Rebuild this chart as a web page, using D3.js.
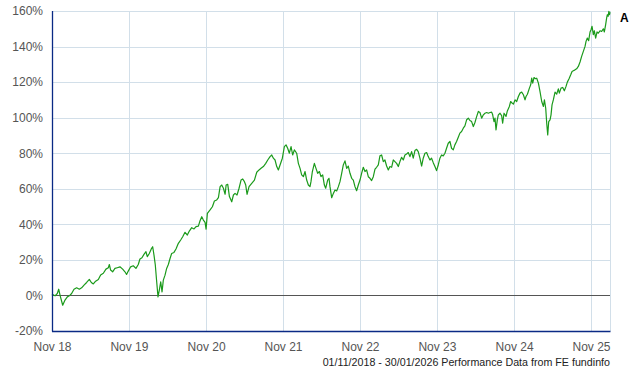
<!DOCTYPE html>
<html>
<head>
<meta charset="utf-8">
<script src="https://cdn.jsdelivr.net/npm/d3@7"></script>
<style>
html,body{margin:0;padding:0;background:#fff;}
svg{display:block;}
text{font-family:"Liberation Sans",Arial,sans-serif;}
</style>
</head>
<body>
<svg id="chart" width="640" height="370"></svg>
<script>
// Decimal-year time stamps of the series
const timeYears = [
2018.833,2018.842,2018.872,2018.902,2018.920,2018.937,2018.972,2019.002,2019.032,2019.058,
2019.088,2019.119,2019.153,2019.188,2019.218,2019.249,2019.283,2019.318,2019.344,2019.370,
2019.400,2019.435,2019.465,2019.500,2019.534,2019.565,2019.578,2019.595,2019.621,2019.651,
2019.681,2019.716,2019.751,2019.781,2019.802,2019.824,2019.855,2019.889,2019.924,2019.954,
2019.976,2020.002,2020.028,2020.054,2020.071,2020.097,2020.127,2020.141,2020.158,2020.175,
2020.193,2020.210,2020.227,2020.245,2020.262,2020.279,2020.301,2020.322,2020.344,2020.366,
2020.387,2020.417,2020.443,2020.474,2020.504,2020.530,2020.560,2020.590,2020.616,2020.647,
2020.677,2020.703,2020.733,2020.755,
2020.777,2020.798,2020.820,2020.833,2020.850,2020.885,2020.915,2020.941,2020.971,2020.993,
2021.015,2021.036,2021.058,2021.080,2021.093,2021.114,2021.136,2021.166,2021.188,2021.209,
2021.235,2021.261,2021.287,2021.309,2021.331,2021.348,2021.365,2021.391,2021.426,2021.461,
2021.491,2021.521,2021.547,2021.577,2021.608,2021.634,2021.664,2021.686,2021.707,2021.729,
2021.751,2021.772,2021.794,2021.824,2021.850,2021.872,2021.893,2021.915,2021.937,2021.958,
2021.980,2022.010,2022.032,2022.054,2022.075,2022.097,2022.119,2022.140,2022.162,2022.183,
2022.196,2022.214,2022.240,2022.261,2022.283,2022.305,2022.326,2022.348,2022.370,2022.387,
2022.413,2022.430,2022.443,2022.465,2022.487,2022.508,2022.530,2022.552,2022.573,2022.595,
2022.616,2022.638,
2022.660,2022.681,2022.703,2022.725,2022.746,2022.768,2022.789,2022.811,2022.833,2022.854,
2022.876,2022.898,2022.919,2022.941,2022.963,2022.984,2023.006,2023.028,2023.049,2023.071,
2023.092,2023.114,2023.136,2023.157,2023.179,2023.201,2023.222,2023.244,2023.266,2023.287,
2023.309,2023.331,2023.352,2023.374,2023.396,2023.417,2023.439,2023.460,2023.482,2023.504,
2023.525,2023.547,2023.569,2023.590,2023.612,2023.634,2023.655,2023.677,2023.699,2023.720,
2023.742,2023.763,2023.785,2023.807,2023.828,2023.850,2023.872,2023.893,2023.915,2023.937,
2023.958,2023.980,2024.002,2024.023,2024.045,2024.066,2024.088,2024.110,2024.131,2024.153,
2024.175,2024.196,2024.218,2024.240,2024.261,2024.283,2024.305,2024.326,2024.348,2024.370,
2024.391,2024.413,2024.435,2024.456,2024.478,2024.500,2024.521,
2024.543,2024.556,2024.573,2024.586,2024.599,2024.616,2024.629,2024.651,2024.672,2024.685,
2024.703,2024.729,2024.746,2024.772,2024.789,2024.807,2024.824,2024.846,2024.867,2024.889,
2024.910,2024.932,2024.954,2024.975,2024.988,2025.006,2025.032,2025.049,2025.062,2025.075,
2025.092,2025.110,2025.127,2025.149,2025.170,2025.192,2025.214,2025.227,2025.244,2025.257,
2025.270,2025.283,2025.300,2025.313,2025.326,2025.343,2025.365,2025.387,2025.408,2025.421,
2025.443,2025.465,2025.486,2025.508,2025.525,2025.547,2025.569,2025.586,2025.603,2025.625,
2025.646,2025.668,2025.690,2025.711,2025.733,2025.755,2025.768,2025.785,2025.802,2025.820,
2025.833,2025.846,2025.863,2025.876,2025.893,2025.911,2025.928,2025.950,2025.971,2025.993,
2026.006,2026.023,2026.036,2026.045,2026.055,2026.065,2026.073,2026.080
];
// Cumulative performance, %
const returns = [
0,0.5,-0.2,1.1,3.5,0.2,-5.5,-2.6,-0.8,-0.2,
1.1,3.5,4.3,3.5,4.3,5.8,7.3,9.0,7.3,6.5,
8.0,9.0,11.5,12.5,14.8,15.6,17.4,14.3,13.3,15.2,
15.6,16.1,14.8,13.3,11.8,13.7,16.1,16.7,15.2,17.4,
20.5,21.2,23.1,24.6,21.8,23.6,26.5,27.4,22.7,17.1,
7.7,-0.8,3.0,7.7,2.0,8.6,11.4,15.2,17.4,20.8,
23.6,24.2,26.1,29.3,31.2,33.0,35.5,34.0,36.2,38.1,
37.4,38.7,39.0,42.0,
44.3,42.4,41.1,37.3,46.2,48.1,49.9,53.1,53.7,55.0,
61.2,62.1,60.3,56.9,62.1,62.5,55.6,52.7,56.5,57.4,
56.5,60.3,64.9,65.5,64.0,62.1,56.9,61.2,63.1,64.9,
69.3,70.6,71.5,72.5,74.3,76.2,78.1,79.0,77.2,76.2,
72.5,70.6,73.4,77.2,83.7,84.7,82.8,80.0,83.7,79.0,
81.9,80.0,74.3,71.5,67.8,66.8,69.7,64.9,62.1,61.2,
64.0,69.7,74.3,71.5,68.7,69.7,66.8,67.8,62.1,60.3,
64.9,65.9,61.2,55.0,57.4,59.3,58.8,61.2,64.0,68.7,
73.4,75.7,
71.5,72.8,68.7,65.9,64.9,61.2,58.9,62.1,64.9,68.7,
72.1,69.7,70.6,66.8,65.9,64.6,66.8,71.0,72.1,73.4,
78.5,79.0,75.3,76.2,72.8,70.6,72.5,72.1,76.2,75.3,
74.3,72.5,75.3,77.7,76.2,79.0,79.6,80.4,78.1,80.9,
77.2,81.5,82.2,80.9,77.2,72.8,77.2,80.0,80.4,78.1,
76.2,77.2,74.7,72.5,70.2,73.4,77.2,79.0,78.5,80.0,
82.8,85.6,86.6,82.8,81.9,84.7,86.6,89.0,91.3,92.2,
94.1,95.4,98.8,99.7,98.4,97.8,95.0,97.3,100.6,103.5,
102.9,99.7,101.6,102.5,102.9,102.5,102.9,
103.1,101.6,97.8,99.7,93.1,98.8,101.6,102.5,101.2,96.9,
102.5,100.7,103.8,106.3,109.1,108.2,107.6,110.0,109.1,111.9,
113.8,114.4,112.9,110.0,111.9,113.2,116.6,118.5,122.2,119.4,
122.6,121.9,122.2,119.4,114.7,109.1,106.3,110.0,105.3,96.9,
90.3,97.8,98.8,101.6,107.2,110.0,114.4,113.2,116.2,113.8,
116.6,117.0,115.1,117.6,120.0,121.9,124.1,126.0,126.4,126.9,
127.5,128.8,131.3,134.5,137.3,140.1,142.9,144.8,143.3,148.2,
149.5,151.4,146.7,148.9,144.8,148.2,147.6,148.9,148.5,150.0,
148.2,152.3,156.1,157.9,157.0,159.8,157.9,159.4
];
const yTicks = [-20,0,20,40,60,80,100,120,140,160];
const xTickYears = [2018,2019,2020,2021,2022,2023,2024,2025];
const xTickLabels = ["Nov 18","Nov 19","Nov 20","Nov 21","Nov 22","Nov 23","Nov 24","Nov 25"];
const seriesLabel = "A";
const footerText = "01/11/2018 - 30/01/2026 Performance Data from FE fundinfo";
const startDate = new Date(Date.UTC(2018,10,1));
const endDate = new Date(Date.UTC(2026,0,30));

function toDate(y){
  const yr = Math.floor(y);
  const s = Date.UTC(yr,0,1), e = Date.UTC(yr+1,0,1);
  return new Date(s + (y-yr)*(e-s));
}
const data = timeYears.map((t,i)=>({date: toDate(t), value: returns[i]}));

const margin = {left:52, right:30, top:11, bottom:39};
const W = 640, H = 370;
const svg = d3.select("#chart");

const x = d3.scaleUtc().domain([startDate,endDate]).range([margin.left, W - margin.right]);
const y = d3.scaleLinear().domain([-20,160]).range([H - margin.bottom, margin.top]);

const xTickDates = xTickYears.map(yr=>new Date(Date.UTC(yr,10,1)));

// horizontal gridlines
svg.append("g").selectAll("line").data(yTicks.filter(v=>v!==-20 && v!==0)).join("line")
  .attr("x1", x.range()[0]).attr("x2", x.range()[1])
  .attr("y1", d=>Math.round(y(d))+0.5).attr("y2", d=>Math.round(y(d))+0.5)
  .attr("stroke","#d2dfe9").attr("stroke-width",1);
// vertical gridlines
svg.append("g").selectAll("line").data(xTickDates.slice(1).concat([endDate])).join("line")
  .attr("x1", d=>Math.round(x(d))+0.5).attr("x2", d=>Math.round(x(d))+0.5)
  .attr("y1", y(160)).attr("y2", y(-20))
  .attr("stroke","#d2dfe9").attr("stroke-width",1);

// zero line
svg.append("line")
  .attr("x1", x.range()[0]).attr("x2", x.range()[1])
  .attr("y1", Math.round(y(0))+0.5).attr("y2", Math.round(y(0))+0.5)
  .attr("stroke","#555").attr("stroke-width",1);

// series line
svg.append("path").datum(data)
  .attr("fill","none").attr("stroke","#1b9a1b").attr("stroke-width",1.2)
  .attr("stroke-linejoin","round")
  .attr("d", d3.line().x(d=>x(d.date)).y(d=>y(d.value)));

// y axis
const yAxis = svg.append("g").attr("transform",`translate(${margin.left},0)`)
  .call(d3.axisLeft(y).tickValues(yTicks).tickSize(0).tickPadding(9).tickFormat(d=>d+"%"));
yAxis.select(".domain").remove();
yAxis.selectAll("text").attr("font-size",12).attr("fill","#555")
  .attr("font-family","'Liberation Sans',Arial,sans-serif");

// x axis
const xAxis = svg.append("g").attr("transform",`translate(0,${H - margin.bottom})`)
  .call(d3.axisBottom(x).tickValues(xTickDates).tickSize(0).tickPadding(11)
    .tickFormat((d,i)=>xTickLabels[i]));
xAxis.select(".domain").remove();
xAxis.selectAll("text").attr("font-size",12).attr("fill","#555")
  .attr("font-family","'Liberation Sans',Arial,sans-serif");

// axis lines
svg.append("line").attr("x1", margin.left+0.5).attr("x2", margin.left+0.5)
  .attr("y1", y(160)).attr("y2", y(-20)+0.5)
  .attr("stroke","#0a2a85").attr("stroke-width",1.3);
svg.append("line").attr("x1", margin.left).attr("x2", x.range()[1]+0.5)
  .attr("y1", Math.round(y(-20))+0.5).attr("y2", Math.round(y(-20))+0.5)
  .attr("stroke","#0a2a85").attr("stroke-width",1.3);

// series label
svg.append("text").attr("x", 620).attr("y", 21.5)
  .attr("font-size",12).attr("font-weight","bold").attr("fill","#000").text(seriesLabel);

// footer
svg.append("text").attr("x", 610).attr("y", 365.5).attr("text-anchor","end")
  .attr("font-size",10.7).attr("fill","#222").text(footerText);
</script>
</body>
</html>
